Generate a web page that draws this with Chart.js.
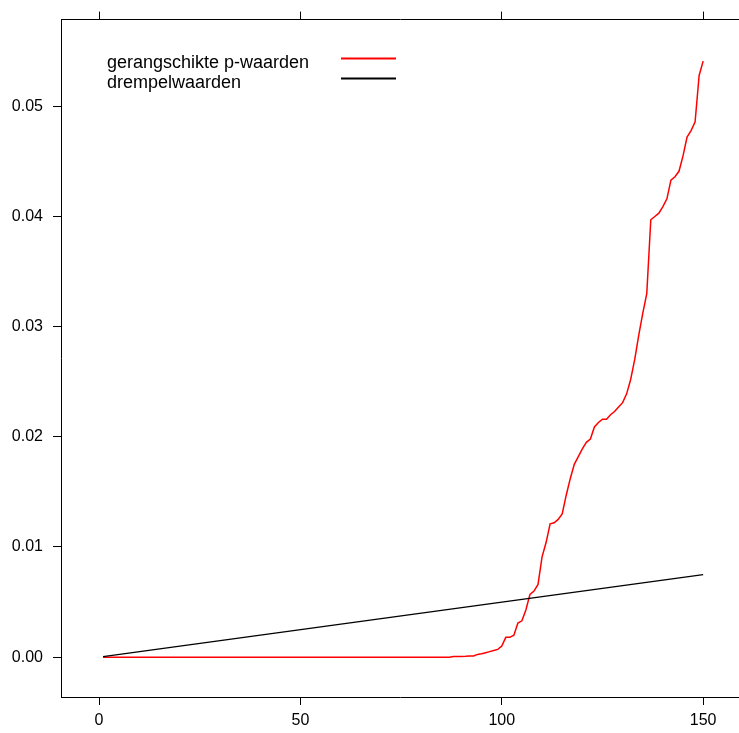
<!DOCTYPE html>
<html>
<head>
<meta charset="utf-8">
<script src="https://cdn.jsdelivr.net/npm/chart.js@4.4.1/dist/chart.umd.min.js"></script>
<style>
  html, body { margin: 0; padding: 0; background: #fff; }
  #plot { display: block; }
</style>
</head>
<body>
<canvas id="plot" width="739" height="733"></canvas>
<script>
// sorted p-values, rank 1..150
const pVals = [
    0, 0, 0, 0, 0, 0, 0, 0, 0, 0,
    0, 0, 0, 0, 0, 0, 0, 0, 0, 0,
    0, 0, 0, 0, 0, 0, 0, 0, 0, 0,
    0, 0, 0, 0, 0, 0, 0, 0, 0, 0,
    0, 0, 0, 0, 0, 0, 0, 0, 0, 0,
    0, 0, 0, 0, 0, 0, 0, 0, 0, 0,
    0, 0, 0, 0, 0, 0, 0, 0, 0, 0,
    0, 0, 0, 0, 0, 0, 0, 0, 0, 0,
    0, 0, 0, 0, 0, 0, 0, 0.00005, 0.00006, 0.00007,
    0.00008, 0.0001, 0.0001, 0.00025, 0.0003, 0.0004, 0.0005, 0.0006, 0.0007, 0.0010,
    0.0018, 0.0018, 0.0020, 0.0031, 0.0033, 0.0043, 0.0057, 0.0060, 0.0066, 0.0091,
    0.0104, 0.0121, 0.0122, 0.0125, 0.0130, 0.0147, 0.0162, 0.0175, 0.0182, 0.0189,
    0.0195, 0.0198, 0.0209, 0.0213, 0.0216, 0.0216, 0.0220, 0.0223, 0.0227, 0.0231,
    0.0239, 0.0252, 0.0270, 0.0292, 0.0312, 0.0330, 0.0397, 0.0400, 0.0403, 0.0409,
    0.0416, 0.0433, 0.0436, 0.0441, 0.0455, 0.0472, 0.0478, 0.0486, 0.0528, 0.0541
];

// threshold line end points
const thrX = [1, 150];
const thrY = [0.00005, 0.0075];

const xTicks = [0, 50, 100, 150];
const yTicks = [0, 0.01, 0.02, 0.03, 0.04, 0.05];

const seriesLabels = ['gerangschikte p-waarden', 'drempelwaarden'];
const seriesColors = ['#ff0000', '#000000'];

const FONT = '"Liberation Sans", Arial, sans-serif';

const pPoints = pVals.map((v, i) => ({ x: i + 1, y: v }));
const thrPoints = thrX.map((x, i) => ({ x: x, y: thrY[i] }));

// legend: text on the left, line sample on the right
const legendPlugin = {
    id: 'sideLegend',
    afterDraw(chart) {
        const c = chart.ctx;
        c.save();
        c.font = '18px ' + FONT;
        c.fillStyle = '#000';
        c.textBaseline = 'alphabetic';
        chart.data.datasets.forEach((ds, i) => {
            const base = 68 + i * 20;
            c.fillText(ds.label, 107, base);
            c.strokeStyle = ds.borderColor;
            c.lineWidth = 2;
            c.beginPath();
            c.moveTo(341, base - 9.5);
            c.lineTo(396, base - 9.5);
            c.stroke();
        });
        c.restore();
    }
};

function setTicks(list) {
    return function (scale) {
        scale.ticks = list.map(v => ({ value: v }));
    };
}

const axisGrid = {
    drawOnChartArea: false,
    drawTicks: true,
    tickLength: 8,
    color: '#000',
    lineWidth: 1
};

new Chart(document.getElementById('plot'), {
    type: 'scatter',
    data: {
        datasets: [{
            label: seriesLabels[0],
            data: pPoints,
            showLine: true,
            borderColor: seriesColors[0],
            borderWidth: 1.5,
            pointRadius: 0,
            tension: 0,
            order: 2
        }, {
            label: seriesLabels[1],
            data: thrPoints,
            showLine: true,
            borderColor: seriesColors[1],
            borderWidth: 1.3,
            pointRadius: 0,
            tension: 0,
            order: 1
        }]
    },
    options: {
        responsive: false,
        animation: false,
        layout: { padding: 0 },
        plugins: {
            legend: { display: false },
            tooltip: { enabled: false }
        },
        scales: {
            x: {
                type: 'linear',
                position: 'bottom',
                min: -9.44,
                max: 158.9,
                afterBuildTicks: setTicks(xTicks),
                afterFit(scale) { scale.height = 36; },
                grid: axisGrid,
                border: { display: true, color: '#000', width: 1 },
                ticks: {
                    color: '#000',
                    padding: 6,
                    maxRotation: 0,
                    font: { family: FONT, size: 16 }
                }
            },
            x2: {
                type: 'linear',
                axis: 'x',
                position: 'top',
                min: -9.44,
                max: 158.9,
                afterBuildTicks: setTicks(xTicks),
                afterFit(scale) { scale.height = 17; },
                grid: axisGrid,
                border: { display: true, color: '#000', width: 1 },
                ticks: { display: false }
            },
            y: {
                type: 'linear',
                position: 'left',
                min: -0.003617,
                max: 0.05787,
                afterBuildTicks: setTicks(yTicks),
                afterFit(scale) { scale.width = 61; },
                grid: axisGrid,
                border: { display: true, color: '#000', width: 1 },
                ticks: {
                    color: '#000',
                    padding: 10,
                    font: { family: FONT, size: 16 },
                    callback: v => v.toFixed(2)
                }
            }
        }
    },
    plugins: [legendPlugin]
});
</script>
</body>
</html>
